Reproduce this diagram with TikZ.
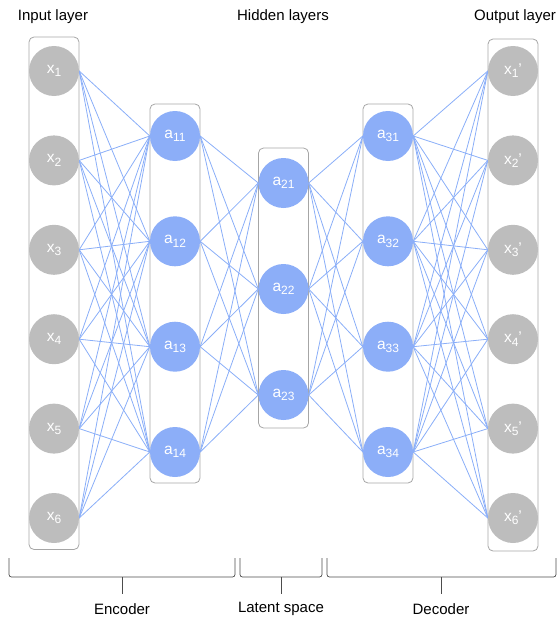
\documentclass[tikz,border=0pt]{standalone}
\usepackage{fontspec}
\setmainfont{Liberation Sans}
\usetikzlibrary{backgrounds}
\definecolor{ngrey}{HTML}{BDBDBD}
\definecolor{nblue}{HTML}{8CAEF8}
\definecolor{eblue}{HTML}{8AAEF8}
\definecolor{bgrey}{HTML}{A6A6A6}
\newcommand\sbs[1]{\raisebox{-0.4ex}{\fontsize{12}{12}\selectfont #1}}
\tikzset{
  gnode/.style={circle, fill=ngrey, minimum size=50pt, inner sep=0pt, text=white, font=\fontsize{15.5}{17}\selectfont},
  bnode/.style={circle, fill=nblue, minimum size=50pt, inner sep=0pt, text=white, font=\fontsize{15.5}{17}\selectfont},
  colbox/.style={draw=bgrey, line width=0.8pt, rounded corners=5pt},
  edge/.style={draw=eblue, line width=0.8pt},
  brace/.style={draw=black!70, line width=0.7pt, rounded corners=2.5pt},
  lbl/.style={font=\fontsize{15}{17}\selectfont, text=black}
}
\begin{document}
\begin{tikzpicture}[x=1pt,y=-1pt]
\useasboundingbox (0,0) rectangle (558,618);
% titles
\node[lbl] (tin) at (53,17) {Input layer};
\node[lbl] (thid) at (283,17) {Hidden layers};
\node[lbl] (tout) at (515,17) {Output layer};
% input nodes
\foreach \i/\y in {1/71,2/160.4,3/249.8,4/339.2,5/428.6,6/518}{
  \node[gnode] (x\i) at (54,\y) {x\sbs{\i}};
}
\foreach \i/\y in {1/71,2/160.4,3/249.8,4/339.2,5/428.6,6/518}{
  \node[gnode] (o\i) at (513,\y) {x\sbs{\i}'};
}
\foreach \i/\y in {1/136,2/241.3,3/346.7,4/452}{
  \node[bnode] (e\i) at (175,\y) {a\sbs{1\i}};
  \node[bnode] (d\i) at (388,\y) {a\sbs{3\i}};
}
\foreach \i/\y in {1/183,2/289,3/395}{
  \node[bnode] (l\i) at (283.5,\y) {a\sbs{2\i}};
}
\begin{scope}[on background layer]
  \draw[colbox] (29,37) rectangle (79,549.5);
  \draw[colbox] (150,104) rectangle (200,483);
  \draw[colbox] (258.5,148) rectangle (308.5,428);
  \draw[colbox] (363,104) rectangle (413,483);
  \draw[colbox] (488,39) rectangle (538,551);
  \foreach \a in {1,...,6}{\foreach \b in {1,...,4}{\draw[edge] (x\a.east) -- (e\b.west);}}
  \foreach \a in {1,...,4}{\foreach \b in {1,...,3}{\draw[edge] (e\a.east) -- (l\b.west);}}
  \foreach \a in {1,...,3}{\foreach \b in {1,...,4}{\draw[edge] (l\a.east) -- (d\b.west);}}
  \foreach \a in {1,...,4}{\foreach \b in {1,...,6}{\draw[edge] (d\a.east) -- (o\b.west);}}
\end{scope}
% braces
\coordinate (b1a) at (9,558); \coordinate (b1b) at (235,558); \coordinate (b1m) at (122,594);
\coordinate (b2a) at (240,558); \coordinate (b2b) at (322,558); \coordinate (b2m) at (281,594);
\coordinate (b3a) at (327,558); \coordinate (b3b) at (556,558); \coordinate (b3m) at (441,594);
\draw[brace] (b1a) -- (b1a |- 0,577) -- (b1b |- 0,577) -- (b1b);
\draw[draw=black!70, line width=0.7pt] (b1m |- 0,577) -- (b1m);
\draw[brace] (b2a) -- (b2a |- 0,577) -- (b2b |- 0,577) -- (b2b);
\draw[draw=black!70, line width=0.7pt] (b2m |- 0,577) -- (b2m);
\draw[brace] (b3a) -- (b3a |- 0,577) -- (b3b |- 0,577) -- (b3b);
\draw[draw=black!70, line width=0.7pt] (b3m |- 0,577) -- (b3m);
\node[lbl] (tenc) at (122,609) {Encoder};
\node[lbl] (tlat) at (281,609) {Latent space};
\node[lbl] (tdec) at (441,609) {Decoder};
\end{tikzpicture}
\end{document}
